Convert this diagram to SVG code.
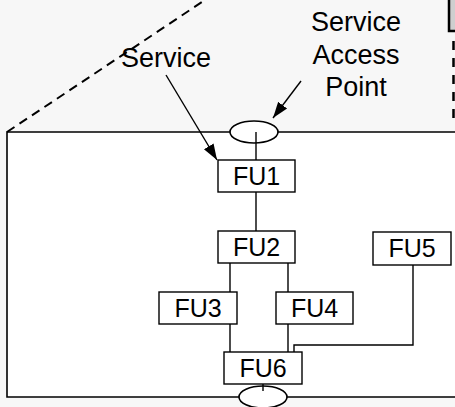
<svg xmlns="http://www.w3.org/2000/svg" width="455" height="407" viewBox="0 0 455 407">
  <defs>
    <style>
      .bg { fill: #f7f7f7; }
      .frame { fill: #ffffff; stroke: #000; stroke-width: 1.6; }
      .box { fill: #ffffff; stroke: #000; stroke-width: 1.4; }
      .wire { fill: none; stroke: #000; stroke-width: 1.4; }
      .sap { fill: #ffffff; stroke: #000; stroke-width: 1.6; }
      .lbl { font-family: "Liberation Sans", Arial, sans-serif; font-size: 25px; fill: #000; text-anchor: middle; }
      .cap { font-family: "Liberation Sans", Arial, sans-serif; font-size: 27px; fill: #000; text-anchor: middle; }
    </style>
    <marker id="arrow" viewBox="0 0 10 10" refX="10" refY="5" markerWidth="9" markerHeight="9" markerUnits="userSpaceOnUse" orient="auto">
      <path d="M0,0 L10,5 L0,10 z" fill="#000"/>
    </marker>
    <marker id="arrowBig" viewBox="0 0 10 10" refX="10" refY="5" markerWidth="16" markerHeight="16" markerUnits="userSpaceOnUse" orient="auto">
      <path d="M0,1.5 L10,5 L0,8.5 z" fill="#000"/>
    </marker>
  </defs>

  <!-- page background -->
  <rect class="bg" x="0" y="0" width="455" height="407"/>

  <!-- system boundary (open to the right) -->
  <path class="frame" d="M456,132 H7 V397 H456"/>

  <!-- perspective edge, dashed -->
  <line x1="7" y1="132" x2="205" y2="0" stroke="#000" stroke-width="2" stroke-dasharray="9,6"/>

  <!-- adjacent element at the upper right -->
  <rect x="449" y="-2" width="10" height="33" fill="#cfcfcf" stroke="#000" stroke-width="2.5"/>
  <line x1="453.5" y1="36" x2="453.5" y2="118" stroke="#000" stroke-width="2.5" stroke-dasharray="9,8" stroke-dashoffset="-5"/>

  <!-- connectors -->
  <g id="connectors">
    <line class="wire" x1="256" y1="132" x2="256" y2="160"/>
    <line class="wire" x1="256" y1="192" x2="256" y2="231"/>
    <line class="wire" x1="230" y1="263" x2="230" y2="292"/>
    <line class="wire" x1="288" y1="263" x2="288" y2="292"/>
    <line class="wire" x1="230" y1="324" x2="230" y2="352"/>
    <line class="wire" x1="288" y1="324" x2="288" y2="352"/>
    <polyline class="wire" points="413,265 413,345 294,345 294,352"/>
    <line class="wire" x1="263" y1="384" x2="263" y2="391"/>
    <line x1="166" y1="75" x2="217" y2="160" stroke="#000" stroke-width="1.4" marker-end="url(#arrowBig)"/>
    <line x1="301" y1="81" x2="273" y2="118" stroke="#000" stroke-width="1.4" marker-end="url(#arrowBig)"/>
  </g>

  <!-- service access points -->
  <g id="sap-top">
    <ellipse class="sap" cx="254" cy="132" rx="24" ry="11"/>
    <line class="wire" x1="256" y1="132" x2="256" y2="143"/>
  </g>
  <g id="sap-bottom">
    <ellipse class="sap" cx="263" cy="397" rx="24" ry="11"/>
    <line class="wire" x1="263" y1="386" x2="263" y2="391"/>
  </g>

  <!-- functional units -->
  <g id="fu1">
    <rect class="box" x="218" y="160" width="77" height="32"/>
    <text class="lbl" x="256.5" y="185">FU1</text>
  </g>
  <g id="fu2">
    <rect class="box" x="218" y="231" width="77" height="32"/>
    <text class="lbl" x="256.5" y="256">FU2</text>
  </g>
  <g id="fu3">
    <rect class="box" x="159" y="292" width="78" height="32"/>
    <text class="lbl" x="198" y="317">FU3</text>
  </g>
  <g id="fu4">
    <rect class="box" x="276" y="292" width="77" height="32"/>
    <text class="lbl" x="314.5" y="317">FU4</text>
  </g>
  <g id="fu5">
    <rect class="box" x="373" y="232" width="78" height="33"/>
    <text class="lbl" x="412" y="257">FU5</text>
  </g>
  <g id="fu6">
    <rect class="box" x="224" y="352" width="78" height="32"/>
    <text class="lbl" x="263" y="377">FU6</text>
  </g>

  <!-- callout labels -->
  <g id="label-service">
    <text class="cap" x="166" y="67">Service</text>
  </g>
  <g id="label-sap">
    <text class="cap" x="356" y="31">Service</text>
    <text class="cap" x="356" y="63.5">Access</text>
    <text class="cap" x="356" y="95.5">Point</text>
  </g>
</svg>
